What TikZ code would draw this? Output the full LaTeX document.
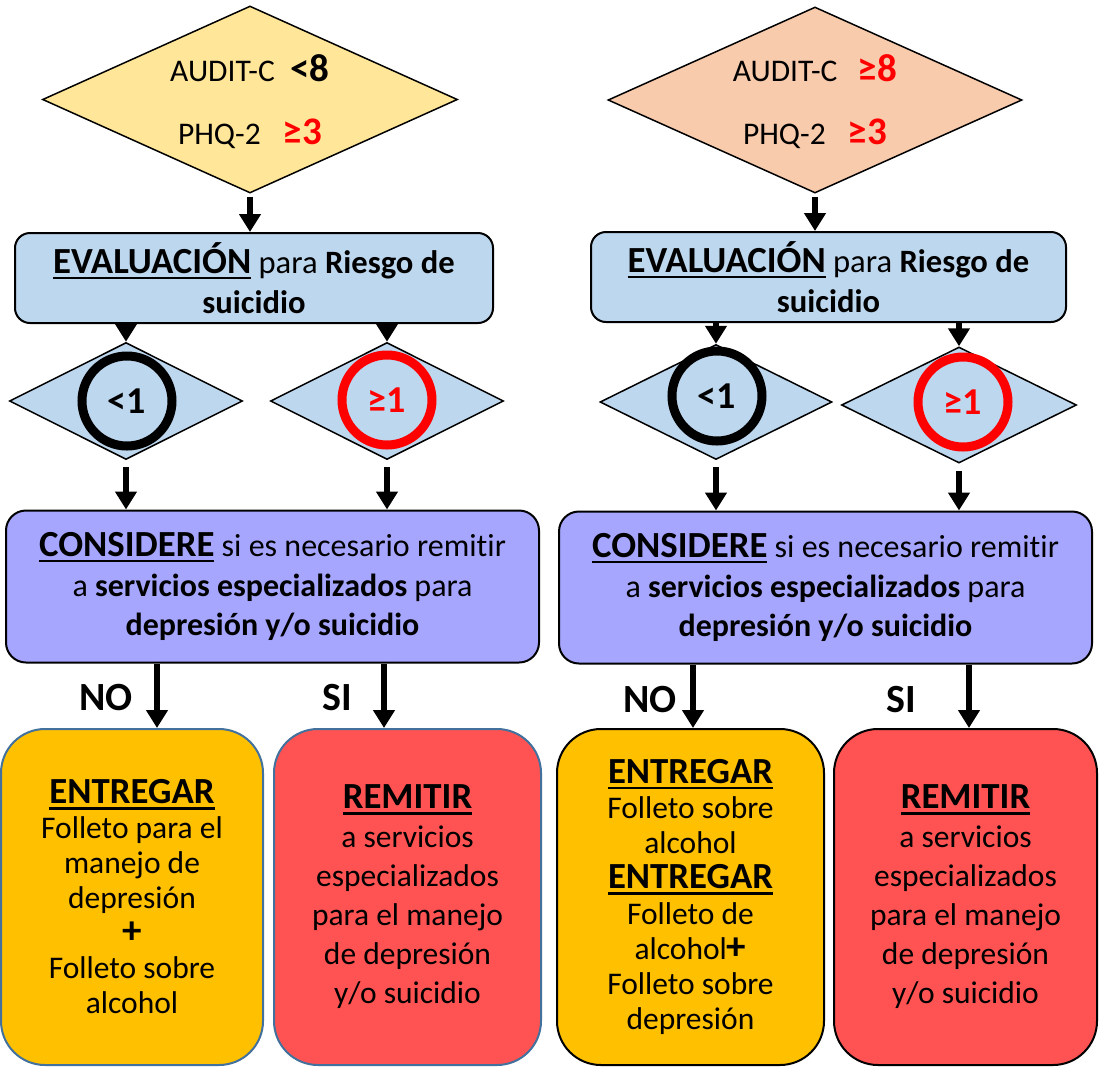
\documentclass[tikz,border=0pt]{standalone}
\usepackage{fontspec}
\setmainfont{Carlito}[Ligatures = NoCommon]
\usepackage{tikz}
\usetikzlibrary{shapes.geometric, arrows.meta}

\definecolor{amarillo}{HTML}{FFE699}
\definecolor{durazno}{HTML}{F8CBAD}
\definecolor{celeste}{HTML}{BDD7EE}
\definecolor{lila}{HTML}{A6A6FF}
\definecolor{naranja}{HTML}{FFC000}
\definecolor{rojo}{HTML}{FF5353}
\definecolor{rojotxt}{HTML}{FF0000}
\definecolor{borde}{HTML}{41719C}

\newcommand\subr[1]{\leavevmode\setbox0\hbox{#1}%
  \rlap{\rule[-.16em]{\wd0}{.07em}}\box0}
\newcommand\titulo[1]{{\fontsize{18.4}{20}\selectfont\subr{\textbf{#1}}}}
\newcommand\valor[1]{{\fontsize{19.5}{20}\selectfont\textbf{#1}}}

\begin{document}
\begin{tikzpicture}[x = .5pt, y = -.5pt,
    rombo/.style = {diamond, draw, line width = .75pt, inner sep = 0pt},
    evalbox/.style = {draw, fill = celeste, rounded corners = 7.5pt, line width = 1pt,
                      minimum height = 45pt, align = center,
                      font = \fontsize{16.3}{20}\selectfont},
    circulo/.style = {circle, draw, line width = 4.5pt, minimum size = 45pt,
                      inner sep = 0pt, font = \fontsize{19}{20}\selectfont\bfseries},
    considbox/.style = {draw, fill = lila, rounded corners = 10pt, line width = 1pt,
                        minimum width = 266.5pt, minimum height = 76pt, align = center,
                        font = \fontsize{16}{19.8}\selectfont},
    accion/.style = {draw, rounded corners = 22pt, line width = 1pt,
                     minimum height = 168pt, align = center},
    flecha/.style = {line width = 3pt, -{Triangle[length = 9pt, width = 10.5pt]}},
    sino/.style = {font = \fontsize{20}{24}\selectfont\bfseries}
  ]
  \useasboundingbox (0,0) rectangle (1099,1067);

  % tamizaje
  \node[rombo, fill = amarillo, minimum width = 207.5pt, minimum height = 93.5pt]
        (dA) at (250,99.5) {};
  \node[rombo, fill = durazno, minimum width = 207pt, minimum height = 93pt]
        (dB) at (815,100) {};
  \node[align = center, font = \fontsize{15.75}{31.5}\selectfont] (tA) at (250,102)
        {AUDIT-C\hspace{.5em}\valor{<8}\\
         PHQ-2\hspace{.7em}\textcolor{rojotxt}{\valor{≥3}}};
  \node[align = center, font = \fontsize{15.75}{31.5}\selectfont] (tB) at (815,102)
        {AUDIT-C\hspace{.65em}\textcolor{rojotxt}{\valor{≥8}}\\
         PHQ-2\hspace{.7em}\textcolor{rojotxt}{\valor{≥3}}};

  \node[evalbox, minimum width = 239pt] (evA) at (254,278)
        {\titulo{EVALUACIÓN} para \textbf{Riesgo de}\\ \textbf{suicidio}};
  \node[evalbox, minimum width = 237.5pt] (evB) at (828.5,277)
        {\titulo{EVALUACIÓN} para \textbf{Riesgo de}\\ \textbf{suicidio}};

  % riesgo de suicidio
  \node[rombo, fill = celeste, minimum width = 116.5pt, minimum height = 58.5pt]
        (sA1) at (126,401) {};
  \node[rombo, fill = celeste, minimum width = 116.5pt, minimum height = 58.5pt]
        (sA2) at (387,401) {};
  \node[rombo, fill = celeste, minimum width = 116pt, minimum height = 57.5pt]
        (sB1) at (716,402) {};
  \node[rombo, fill = celeste, minimum width = 117.5pt, minimum height = 58pt]
        (sB2) at (959,405) {};
  \node[circulo] (cA1) at (127,401) {<1};
  \node[circulo, draw = rojotxt, text = rojotxt] (cA2) at (387,400) {≥1};
  \node[circulo] (cB1) at (717,396) {<1};
  \node[circulo, draw = rojotxt, text = rojotxt] (cB2) at (963,402) {≥1};

  \node[considbox] (cnA) at (272.5,586.5)
        {\titulo{CONSIDERE} si es necesario remitir\\
         a \textbf{servicios especializados} para\\
         \textbf{depresión y/o suicidio}};
  \node[considbox] (cnB) at (825.5,587.5)
        {\titulo{CONSIDERE} si es necesario remitir\\
         a \textbf{servicios especializados} para\\
         \textbf{depresión y/o suicidio}};

  % acciones
  \node[accion, draw = borde, fill = naranja, minimum width = 131pt,
        font = \fontsize{15.75}{17.5}\selectfont] (enA) at (132,897)
        {\titulo{ENTREGAR}\\ Folleto para el\\ manejo de\\ depresión\\
         \valor{+}\\ Folleto sobre\\ alcohol};
  \node[accion, draw = borde, fill = rojo, minimum width = 133.5pt,
        font = \fontsize{15.75}{19.5}\selectfont] (reA) at (407.5,897)
        {\titulo{REMITIR}\\ a servicios\\ especializados\\
         para el manejo\\ de depresión\\ y/o suicidio};
  \node[accion, fill = naranja, minimum width = 133.5pt,
        font = \fontsize{15.75}{17.6}\selectfont] (enB) at (690.5,897)
        {\titulo{ENTREGAR}\\ Folleto sobre\\ alcohol\\
         \titulo{ENTREGAR}\\ Folleto de\\ alcohol\valor{+}\\
         Folleto sobre\\ depresión};
  \node[accion, fill = rojo, minimum width = 131.5pt,
        font = \fontsize{15.75}{19.5}\selectfont] (reB) at (965.5,897)
        {\titulo{REMITIR}\\ a servicios\\ especializados\\
         para el manejo\\ de depresión\\ y/o suicidio};

  \node[sino] (noA) at (106,698) {NO};
  \node[sino] (siA) at (337,698) {SI};
  \node[sino] (noB) at (650,700) {NO};
  \node[sino] (siB) at (901,700) {SI};

  \coordinate (pNoA) at ([xshift = 12.5pt]enA.north);
  \coordinate (pSiA) at ([xshift = -11.75pt]reA.north);
  \coordinate (pNoB) at ([xshift = 1.25pt]enB.north);
  \coordinate (pSiB) at ([xshift = 1.75pt]reB.north);

  % flechas
  \draw[flecha, shorten <= 1.5pt] (dA.south) -- (dA.south |- evA.north);
  \draw[flecha, shorten <= 1.5pt] (dB.south) -- (dB.south |- evB.north);
  \draw[flecha] (sA1.north |- evA.south) -- (sA1.north);
  \draw[flecha] (sA2.north |- evA.south) -- (sA2.north);
  \draw[flecha] (sB1.north |- evB.south) -- (sB1.north);
  \draw[flecha] (sB2.north |- evB.south) -- (sB2.north);
  \draw[flecha, shorten <= 3.5pt] (sA1.south) -- (sA1.south |- cnA.north);
  \draw[flecha, shorten <= 3.5pt] (sA2.south) -- (sA2.south |- cnA.north);
  \draw[flecha, shorten <= 3.5pt] (sB1.south) -- (sB1.south |- cnB.north);
  \draw[flecha, shorten <= 3.5pt] (sB2.south) -- (sB2.south |- cnB.north);
  \draw[flecha] (cnA.south -| pNoA) -- (pNoA);
  \draw[flecha] (cnA.south -| pSiA) -- (pSiA);
  \draw[flecha] (cnB.south -| pNoB) -- (pNoB);
  \draw[flecha] (cnB.south -| pSiB) -- (pSiB);
\end{tikzpicture}
\end{document}
